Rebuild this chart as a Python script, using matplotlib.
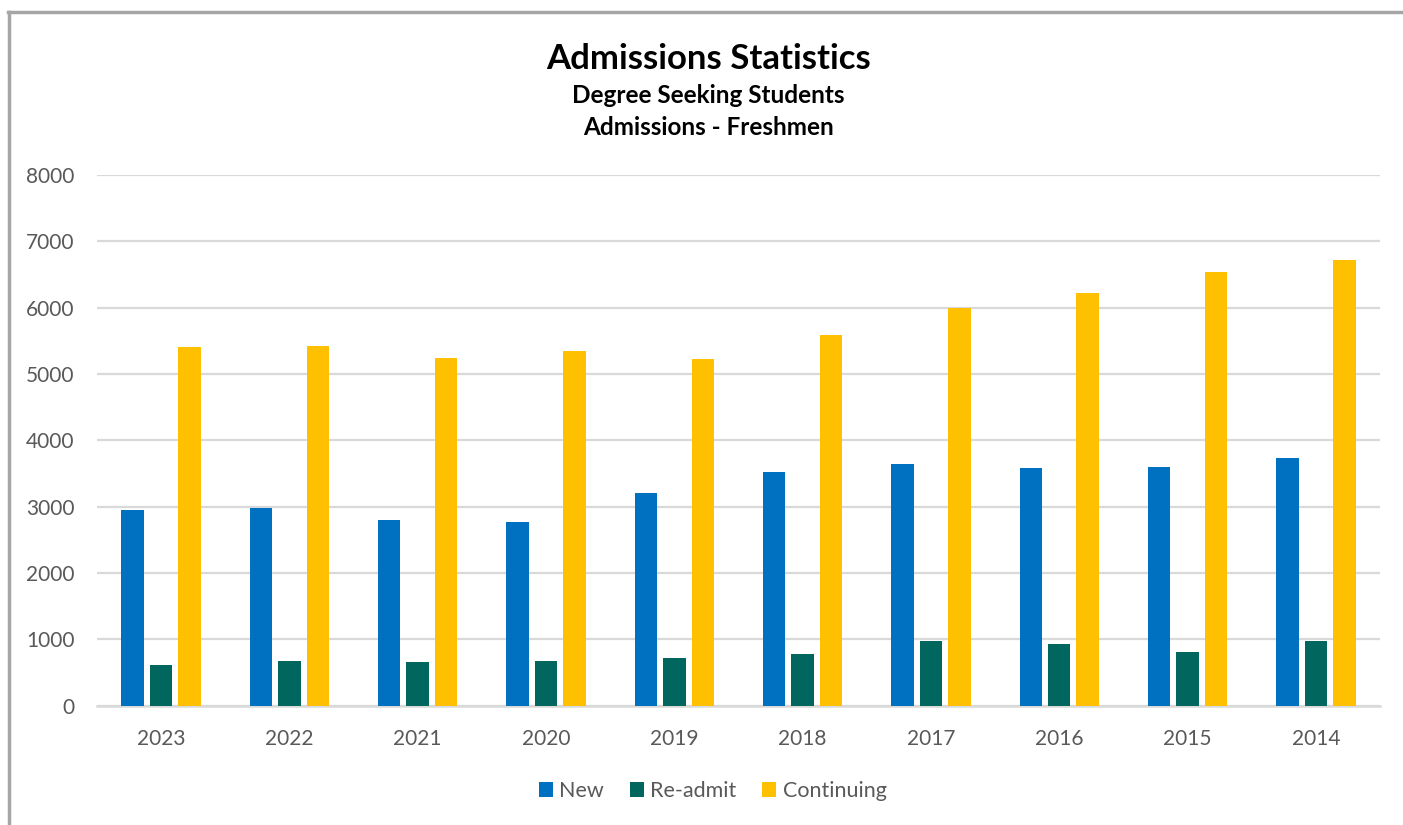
import numpy as np
import matplotlib.pyplot as plt
from matplotlib.lines import Line2D

years = ['2023', '2022', '2021', '2020', '2019', '2018', '2017', '2016', '2015', '2014']
new = [2952, 2987, 2801, 2771, 3208, 3520, 3641, 3590, 3595, 3731]
readmit = [614, 674, 659, 674, 715, 780, 976, 935, 805, 976]
continuing = [5400, 5425, 5234, 5350, 5229, 5591, 5998, 6225, 6537, 6712]

series_names = ['New', 'Re-admit', 'Continuing']
colors = ['#0070C0', '#00665E', '#FFC000']
text_color = '#595959'

plt.rcParams['font.family'] = ['Lato', 'DejaVu Sans']

fig = plt.figure(figsize=(14.03, 8.25), dpi=100)
ax = fig.add_axes([0.0691, 0.1446, 0.9145, 0.6433])

x = np.arange(len(years))
width = 0.175
step = 0.222
for i, (vals, name, c) in enumerate(zip([new, readmit, continuing], series_names, colors)):
    ax.bar(x + (i - 1) * step, vals, width, color=c, label=name, zorder=3)

ax.set_xlim(-0.5, len(years) - 0.5)
ax.set_ylim(0, 8000)
ax.set_yticks(np.arange(0, 8001, 1000))
ax.set_xticks(x)
ax.set_xticklabels(years)
ax.grid(axis='y', color='#D9D9D9', linewidth=1.6, zorder=0)
for s in ['top', 'right', 'left']:
    ax.spines[s].set_visible(False)
ax.spines['bottom'].set_color('#D9D9D9')
ax.spines['bottom'].set_linewidth(1.8)
ax.tick_params(axis='both', length=0, labelsize=15, colors=text_color)
ax.tick_params(axis='y', pad=16)
ax.tick_params(axis='x', pad=17)

fig.text(0.505, 0.929, 'Admissions Statistics', ha='center', va='center',
         fontsize=25, fontweight='bold', color='black')
fig.text(0.505, 0.884, 'Degree Seeking Students', ha='center', va='center',
         fontsize=17.5, fontweight='bold', color='black')
fig.text(0.505, 0.845, 'Admissions - Freshmen', ha='center', va='center',
         fontsize=17.5, fontweight='bold', color='black')

leg = fig.legend(loc='center', bbox_to_anchor=(0.508, 0.041), ncol=3, frameon=False,
                 fontsize=15.5, handlelength=0.65, handleheight=0.65, handletextpad=0.3,
                 columnspacing=1.2)
for t in leg.get_texts():
    t.set_color(text_color)

# outer chart border (left and top edges visible)
fig.add_artist(Line2D([0.0064, 0.0064], [0, 0.9855], transform=fig.transFigure,
                      color='#A6A6A6', linewidth=2.5))
fig.add_artist(Line2D([0.0055, 1.0], [0.9855, 0.9855], transform=fig.transFigure,
                      color='#A6A6A6', linewidth=2.5))

fig.savefig('out.png', dpi=100, facecolor='white')
